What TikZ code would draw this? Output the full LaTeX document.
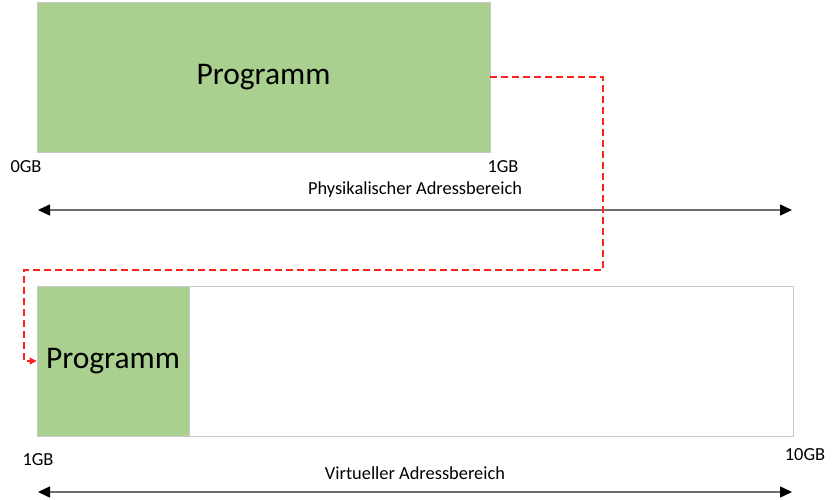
\documentclass[tikz,border=0pt]{standalone}
\usepackage{fontspec}
\setmainfont{Carlito}
\usetikzlibrary{arrows.meta}
\definecolor{progGreen}{HTML}{A9D08E}
\definecolor{boxGray}{HTML}{C8C8C8}
\definecolor{axisGray}{HTML}{6E6E6E}
\definecolor{mapRed}{HTML}{FF2020}
\tikzset{
  progbox/.style={fill=progGreen, draw=boxGray, line width=0.8pt, inner sep=0pt, font=\fontsize{31.5}{36}\selectfont},
  membox/.style={fill=white, draw=boxGray, line width=1pt, inner sep=0pt},
  lbl/.style={inner sep=0pt, font=\fontsize{18.4}{21}\selectfont},
  axis/.style={draw=axisGray, line width=1.5pt, {Triangle[length=12pt,width=11pt,color=black]}-{Triangle[length=12pt,width=11pt,color=black]}},
  mapping/.style={draw=mapRed, line width=1.2pt, dash pattern=on 7pt off 4pt, -{Triangle[length=7pt,width=7pt]}}
}
\begin{document}
\begin{tikzpicture}[x=1pt,y=-1pt]
\useasboundingbox (0,0) rectangle (836,500);
% physical memory
\node[progbox, minimum width=453pt, minimum height=150pt] (prog1) at (263.5,77) {Programm};
\node[lbl] (zero) at (26,167) {0GB};
\node[lbl] (onegbA) at (503,167) {1GB};
\node[lbl] (phys) at (415,190) {Physikalischer Adressbereich};
\coordinate (pl) at (38,210);
\coordinate (pr) at (792,210);
\draw[axis] (pl) -- (pr);
% virtual memory
\node[membox, minimum width=756pt, minimum height=150pt] (virt) at (415,361) {};
\node[progbox, minimum width=152pt, minimum height=150pt] (prog2) at (113,361) {Programm};
\node[lbl] (onegbB) at (38,460) {1GB};
\node[lbl] (tengb) at (805,455) {10GB};
\node[lbl] (virtl) at (415,473) {Virtueller Adressbereich};
\coordinate (vl) at (38,492);
\coordinate (vr) at (792,492);
\draw[axis] (vl) -- (vr);
% mapping
\coordinate (c1) at (603,270);
\coordinate (c2) at (24,270);
\draw[mapping] (prog1.east) -| (c1) -- (c2) |- (prog2.west);
\end{tikzpicture}
\end{document}
